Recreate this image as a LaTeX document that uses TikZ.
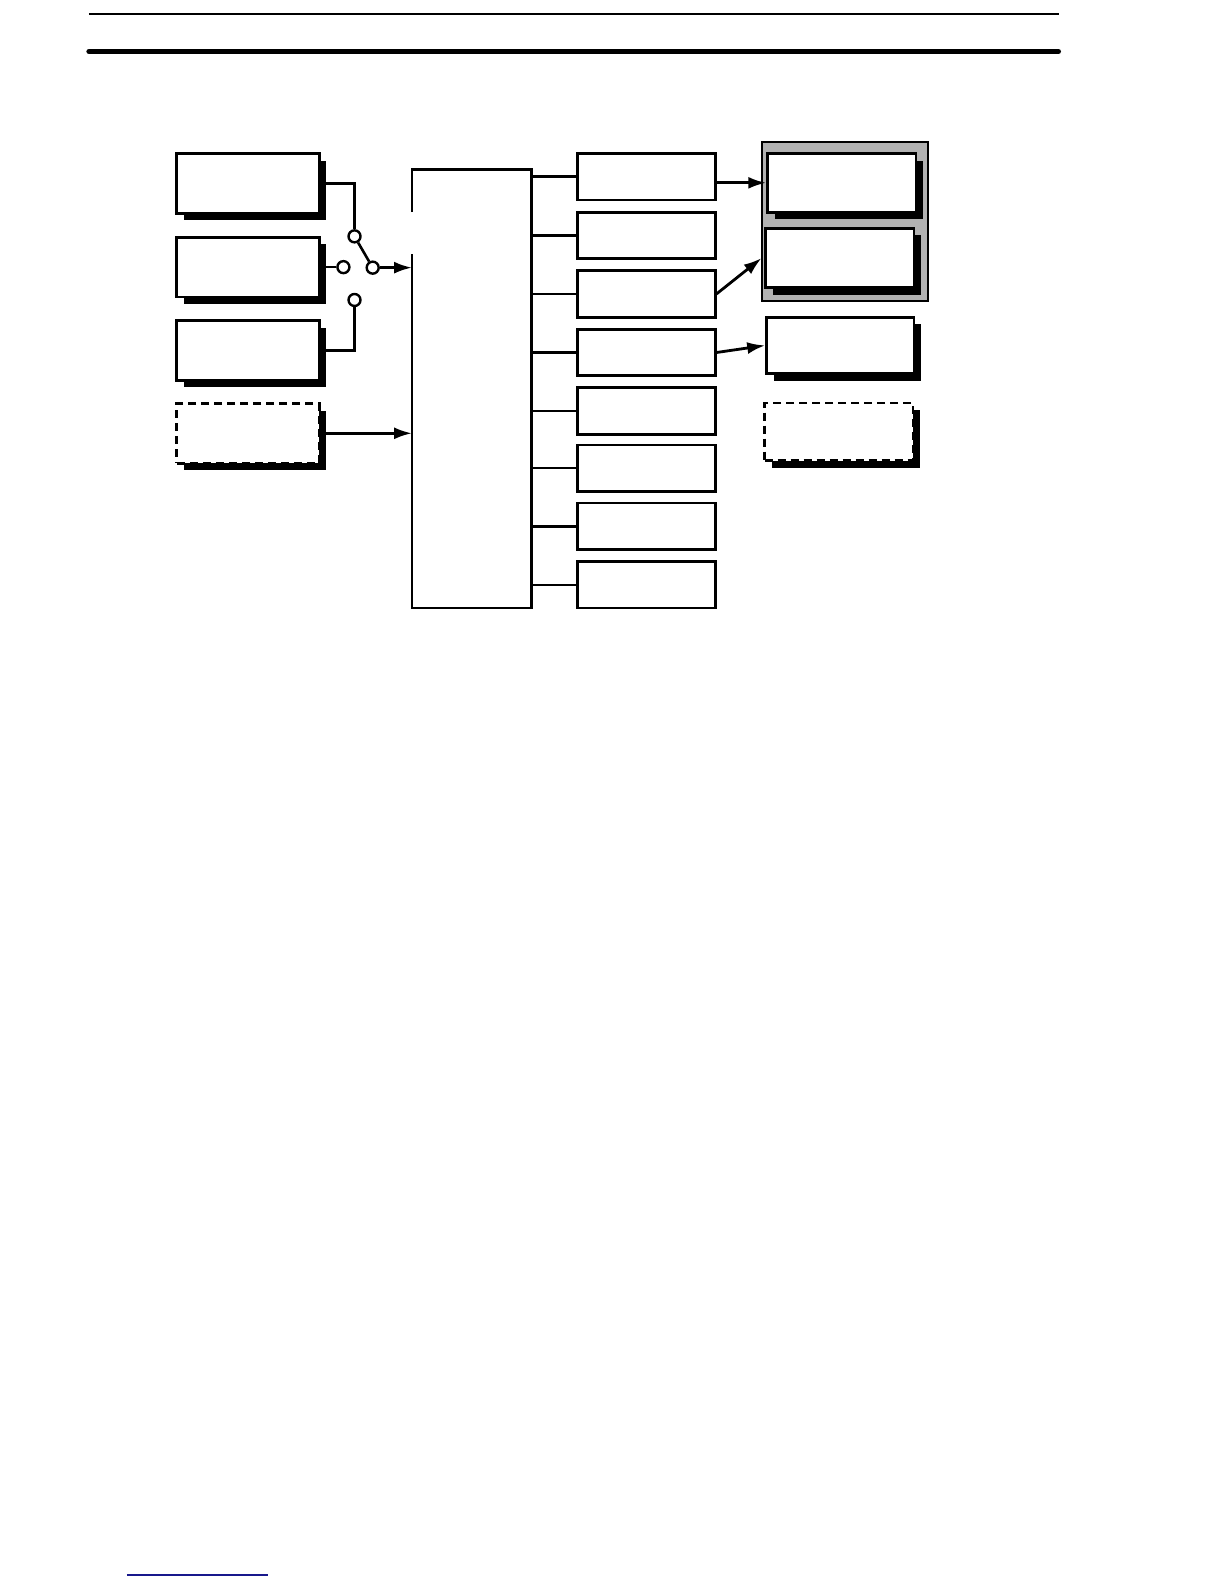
\documentclass[tikz,border=0pt]{standalone}
\usepackage{xcolor}
\usepackage{tikz}
\usetikzlibrary{shapes, arrows.meta, shadows}
\definecolor{navy}{RGB}{24,24,140}
\tikzstyle{unit} = [rectangle, draw, fill=white, line width=1.4pt, minimum width=71.2pt, minimum height=29.8pt, drop shadow={shadow xshift=3.5pt, shadow yshift=-3.5pt, fill=black, opacity=1}]
\tikzstyle{option} = [unit, dash pattern=on 4pt off 2.5pt]
\tikzstyle{output} = [rectangle, draw, fill=white, line width=1.4pt, minimum width=68.7pt, minimum height=23.2pt]
\tikzstyle{contact} = [circle, draw, fill=white, line width=1.2pt, inner sep=0pt, minimum size=6pt]
\tikzstyle{wire} = [draw, line width=1.3pt]
\tikzstyle{connector} = [draw, line width=1.4pt, -{Latex[length=9pt,width=6pt]}]

\begin{document}
\begin{tikzpicture}[x=0.505pt, y=-0.505pt]
        % page rules
        \draw[line width=1pt] (88,14) -- (1048,14);
        \draw[line width=2.5pt, line cap=round] (88,51) -- (1048,51);
        \draw[navy, line width=0.8pt] (125.7,1559.4) -- (265.3,1559.4);

        % inputs
        \node [unit] at (245.5,181.5) (in1) {};
        \node [unit] at (245.5,264.5) (in2) {};
        \node [unit] at (245.5,347) (in3) {};
        \node [option] at (245.5,429) (in4) {};

        % selector switch
        \node [contact] at (351,234) (c1) {};
        \node [contact] at (340,264.5) (c2) {};
        \node [contact] at (351,297) (c3) {};
        \node [contact] at (369,265) (cs) {};

        % main unit
        \node [rectangle, minimum width=59.6pt, minimum height=219.2pt, outer sep=0pt] at (467,385) (cpu) {};
        \draw [line width=1.4pt] ([yshift=-21.2pt]cpu.north west) -- (cpu.north west) -- (cpu.north east)
            -- (cpu.south east) -- (cpu.south west) -- ([yshift=176.8pt]cpu.south west);

        % outputs
        \node [output] at (640,175) (out1) {};
        \node [output] at (640,233) (out2) {};
        \node [output] at (640,291) (out3) {};
        \node [output] at (640,349) (out4) {};
        \node [output] at (640,407) (out5) {};
        \node [output] at (640,463.5) (out6) {};
        \node [output] at (640,521) (out7) {};
        \node [output] at (640,579) (out8) {};

        % peripherals
        \node [rectangle, draw, fill=black!30, line width=1pt, minimum width=83.3pt, minimum height=79.3pt, outer sep=0pt] at (836.5,219.5) (panel) {};
        \node [unit, minimum width=74.2pt, minimum height=29.3pt] at (833.5,181) (dispA) {};
        \node [unit, minimum width=74.2pt, minimum height=29.8pt] at (831.5,255.5) (dispB) {};
        \node [unit, minimum width=73.7pt, minimum height=28.3pt] at (832,342) (dispC) {};
        \node [option, minimum width=74.2pt, minimum height=28.8pt] at (830.5,427.5) (dispD) {};

        \path [wire] (in1.east) -| (c1);
        \path [wire] (in2.east) -- (c2);
        \path [wire] (in3.east) -| (c3);
        \path [wire] (c1) -- (cs);
        \path [connector] (cs) -- (cs -| cpu.west);
        \path [connector] (in4.east) -- (in4.east -| cpu.west);

        \path [wire] (out1.west -| cpu.east) -- (out1.west);
        \path [wire] (out2.west -| cpu.east) -- (out2.west);
        \path [wire] (out3.west -| cpu.east) -- (out3.west);
        \path [wire] (out4.west -| cpu.east) -- (out4.west);
        \path [wire] (out5.west -| cpu.east) -- (out5.west);
        \path [wire] (out6.west -| cpu.east) -- (out6.west);
        \path [wire] (out7.west -| cpu.east) -- (out7.west);
        \path [wire] (out8.west -| cpu.east) -- (out8.west);

        \path [connector] (out1.east |- dispA.west) -- (dispA.west);
        \path [connector] (out3.east) -- (panel.west |- dispB.west);
        \path [connector] (out4.east) -- (dispC.west);

        \pgfresetboundingbox
        \useasboundingbox (0,0) rectangle (1211.9,1568.3);
    \end{tikzpicture}
\end{document}
